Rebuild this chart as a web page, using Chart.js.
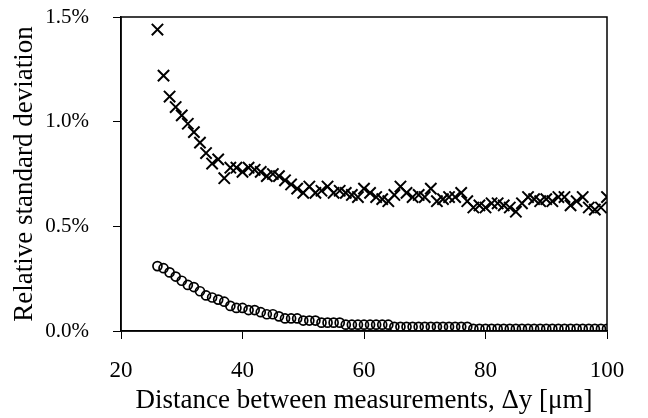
<!DOCTYPE html>
<html>
<head>
<meta charset="utf-8">
<script src="https://cdn.jsdelivr.net/npm/chart.js@4.4.0/dist/chart.umd.min.js"></script>
<style>
  html, body { margin: 0; padding: 0; background: #fff; }
  #wrap { width: 648px; height: 418px; }
</style>
</head>
<body>
<div id="wrap"><canvas id="rsdChart" width="648" height="418"></canvas></div>
<script>
// 测量间距 (µm)
const distances = [];
for (let d = 26; d <= 100; d++) distances.push(d);

// 叉号系列 (%)
const crossValues = [
  1.44, 1.22, 1.12, 1.07, 1.03, 0.99, 0.95, 0.90, 0.85, 0.80,
  0.82, 0.73, 0.78, 0.78, 0.76, 0.78, 0.77, 0.76, 0.74, 0.75,
  0.74, 0.72, 0.70, 0.68, 0.66, 0.69, 0.66, 0.67, 0.69, 0.66,
  0.67, 0.66, 0.65, 0.64, 0.68, 0.66, 0.64, 0.63, 0.62, 0.65,
  0.69, 0.66, 0.64, 0.65, 0.64, 0.68, 0.62, 0.63, 0.64, 0.64,
  0.66, 0.62, 0.59, 0.60, 0.59, 0.61, 0.61, 0.60, 0.59, 0.57,
  0.61, 0.64, 0.63, 0.62, 0.63, 0.62, 0.64, 0.64, 0.60, 0.62,
  0.64, 0.59, 0.58, 0.59, 0.64
];

// 圆圈系列 (%)
const circleValues = [
  0.31, 0.30, 0.28, 0.26, 0.24, 0.22, 0.21, 0.19, 0.17, 0.16,
  0.15, 0.14, 0.12, 0.11, 0.11, 0.10, 0.10, 0.09, 0.08, 0.08,
  0.07, 0.06, 0.06, 0.06, 0.05, 0.05, 0.05, 0.04, 0.04, 0.04,
  0.04, 0.03, 0.03, 0.03, 0.03, 0.03, 0.03, 0.03, 0.03, 0.02,
  0.02, 0.02, 0.02, 0.02, 0.02, 0.02, 0.02, 0.02, 0.02, 0.02,
  0.02, 0.02, 0.01, 0.01, 0.01, 0.01, 0.01, 0.01, 0.01, 0.01,
  0.01, 0.01, 0.01, 0.01, 0.01, 0.01, 0.01, 0.01, 0.01, 0.01,
  0.01, 0.01, 0.01, 0.01, 0.01
];

const xTicks = [20, 40, 60, 80, 100];
const yTicks = [0, 0.5, 1.0, 1.5];

const serif = '"Liberation Serif", "DejaVu Serif", serif';

// 外框：画出图表区域四周的黑线
const boxPlugin = {
  id: 'box',
  afterDraw(chart) {
    const { ctx, chartArea: a } = chart;
    ctx.save();
    ctx.strokeStyle = '#000';
    ctx.lineWidth = 1.5;
    ctx.strokeRect(a.left, a.top, a.right - a.left, a.bottom - a.top);
    ctx.restore();
  }
};

new Chart(document.getElementById('rsdChart'), {
  type: 'scatter',
  data: {
    datasets: [
      {
        data: distances.map((d, i) => ({ x: d, y: crossValues[i] })),
        pointStyle: 'crossRot',
        pointRadius: 8,
        borderColor: '#000',
        borderWidth: 2
      },
      {
        data: distances.map((d, i) => ({ x: d, y: circleValues[i] })),
        pointStyle: 'circle',
        pointRadius: 4.5,
        backgroundColor: 'rgba(0,0,0,0)',
        borderColor: '#000',
        borderWidth: 1.7
      }
    ]
  },
  options: {
    responsive: false,
    animation: false,
    layout: { padding: { left: 0, top: 17, right: 41, bottom: 0 } },
    plugins: { legend: { display: false }, tooltip: { enabled: false } },
    scales: {
      x: {
        type: 'linear',
        min: 20,
        max: 100,
        afterBuildTicks: s => { s.ticks = xTicks.map(v => ({ value: v })); },
        afterFit: s => { s.height = 87; s.paddingLeft = 0; s.paddingRight = 0; },
        grid: { drawOnChartArea: false, tickLength: 8, color: '#000', lineWidth: 1 },
        border: { color: '#000', width: 1.5 },
        ticks: { color: '#000', font: { family: serif, size: 23 }, padding: 18, maxRotation: 0 },
        title: {
          display: true,
          text: 'Distance between measurements, Δy [μm]',
          color: '#000',
          font: { family: serif, size: 27 },
          padding: { top: 1, bottom: 1 }
        }
      },
      y: {
        min: 0,
        max: 1.5,
        afterBuildTicks: s => { s.ticks = yTicks.map(v => ({ value: v })); },
        afterFit: s => { s.width = 121; s.paddingTop = 0; s.paddingBottom = 0; },
        grid: { drawOnChartArea: false, tickLength: 8, color: '#000', lineWidth: 1 },
        border: { color: '#000', width: 1.5 },
        ticks: {
          color: '#000',
          font: { family: serif, size: 21 },
          padding: 24,
          callback: v => v.toFixed(1) + '%'
        },
        title: {
          display: true,
          text: 'Relative standard deviation',
          color: '#000',
          font: { family: serif, size: 27 },
          padding: { top: 9, bottom: 9 }
        }
      }
    }
  },
  plugins: [boxPlugin]
});
</script>
</body>
</html>
